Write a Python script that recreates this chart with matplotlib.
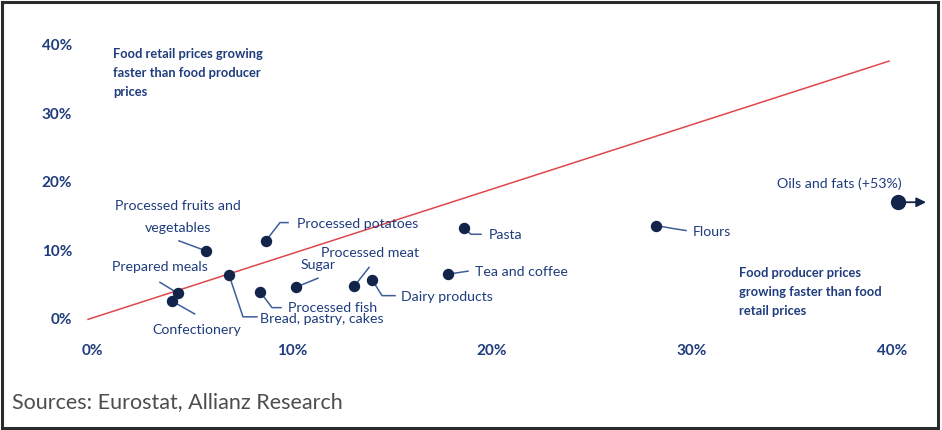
import numpy as np
import matplotlib
matplotlib.use("Agg")
import matplotlib.pyplot as plt
from matplotlib.transforms import ScaledTranslation
from matplotlib.patches import Rectangle

plt.rcParams['font.family'] = ['Lato', 'DejaVu Sans']

# producer price growth (x) vs retail price growth (y), %
categories = ["Confectionery", "Prepared meals", "Processed fruits and\nvegetables",
              "Bread, pastry, cakes", "Processed potatoes", "Processed fish", "Sugar",
              "Processed meat", "Dairy products", "Tea and coffee", "Pasta", "Flours",
              "Oils and fats (+53%)"]
producer = [3.98, 4.3, 5.7, 6.85, 8.7, 8.4, 10.2, 13.1, 14.0, 17.8, 18.6, 28.2, 53.0]
retail = [2.5, 3.6, 9.8, 6.3, 11.3, 3.85, 4.5, 4.6, 5.6, 6.4, 13.1, 13.5, 16.9]
x_cap = 40.3  # points beyond the axis are drawn at the edge with an arrow

line_x = [-0.2, 39.85]
line_y = [-0.2, 37.5]

xticks = [0, 10, 20, 30, 40]
yticks = [0, 10, 20, 30, 40]

TXT = "#1f3c7c"
DOT = "#13244a"
LEAD = "#3f5d98"
RED = "#e0474c"

# label placement (pixel offsets from the dot): text offset, ha, leader vertices
place = {
    "Confectionery": ((25, -28), "center", [(23, -13)]),
    "Prepared meals": ((-18, 27), "center", [(-18, 11)]),
    "Processed fruits and\nvegetables": ((-28, 35), "center", [(-27, 10)]),
    "Bread, pastry, cakes": ((31, -43), "left", [(14, -42), (28, -42)]),
    "Processed potatoes": ((31, 18), "left", [(14, 18), (22, 18)]),
    "Processed fish": ((28, -15), "left", [(12, -16), (21, -16)]),
    "Sugar": ((5, 23), "left", [(22, 9)]),
    "Processed meat": ((16, 34), "center", [(15, 19)]),
    "Dairy products": ((29, -16), "left", [(10, -16), (23, -16)]),
    "Tea and coffee": ((27, 3), "left", [(20, 3)]),
    "Pasta": ((25, -6), "left", [(7, -6), (17, -6)]),
    "Flours": ((37, -5), "left", [(17, -3), (30, -5)]),
    "Oils and fats (+53%)": ((4, 20), "right", []),
}

fig = plt.figure(figsize=(9.42, 4.31), dpi=100)
ax = fig.add_axes([82 / 942, 105.15 / 431, 850 / 942, 287.7 / 431])
ax.set_xlim(-0.5, 42)
ax.set_ylim(-1, 41)
for s in ax.spines.values():
    s.set_visible(False)

ax.set_xticks(xticks)
ax.set_xticklabels(["%d%%" % t for t in xticks])
ax.set_yticks(yticks)
ax.set_yticklabels(["%d%%" % t for t in yticks])
ax.tick_params(length=0, labelsize=11, labelcolor=TXT)
ax.tick_params(axis='x', pad=13)
ax.tick_params(axis='y', pad=7)
for lab in ax.get_xticklabels() + ax.get_yticklabels():
    lab.set_fontweight('bold')

ax.plot(line_x, line_y, color=RED, lw=1.1, zorder=2, clip_on=False)

for name, x, y in zip(categories, producer, retail):
    px = min(x, x_cap)
    (tdx, tdy), ha, lead = place[name]
    tr = fig.dpi_scale_trans + ScaledTranslation(px, y, ax.transData)
    if lead:
        vx = [0] + [v[0] / 100 for v in lead]
        vy = [0] + [v[1] / 100 for v in lead]
        ax.plot(vx, vy, color=LEAD, lw=1.1, transform=tr, zorder=3, clip_on=False)
    big = x > x_cap
    ax.plot(px, y, "o", color=DOT, ms=10 if big else 7.2, zorder=4, clip_on=False)
    if big:
        ax.annotate("", xy=(0.28, 0), xycoords=tr, xytext=(0, 0), textcoords=tr,
                    arrowprops=dict(arrowstyle='-|>', color=DOT, lw=1.3,
                                    mutation_scale=14, shrinkA=0, shrinkB=0),
                    zorder=3, annotation_clip=False)
    ax.annotate(name, xy=(px, y), xytext=(tdx, tdy), textcoords='offset pixels',
                ha=ha, va='center', color=TXT, fontsize=10.2, linespacing=2.0,
                multialignment='center', zorder=5, annotation_clip=False)

ax.text(1.05, 39.6, "Food retail prices growing\nfaster than food producer\nprices",
        ha='left', va='top', color=TXT, fontsize=9.3, fontweight='bold', linespacing=1.72)
ax.text(32.35, 7.6, "Food producer prices\ngrowing faster than food\nretail prices",
        ha='left', va='top', color=TXT, fontsize=9.3, fontweight='bold', linespacing=1.72)

fig.text(12 / 942, 29 / 431, "Sources: Eurostat, Allianz Research", ha='left', va='center',
         color="#4d4d4d", fontsize=15.5)

fig.patches.append(Rectangle((1.5 / 942, 2.5 / 431), 936 / 942, 426 / 431,
                             transform=fig.transFigure, fill=False,
                             edgecolor="#2b2b2b", lw=2.2))

fig.savefig("out.png", dpi=100)
